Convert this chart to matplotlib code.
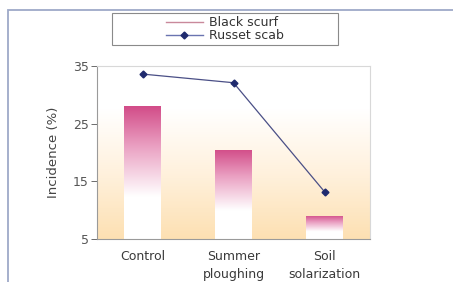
import numpy as np
import matplotlib
matplotlib.use("Agg")
import matplotlib.pyplot as plt
from matplotlib.colors import LinearSegmentedColormap
from matplotlib.patches import Rectangle
from matplotlib.lines import Line2D

plt.rcParams['font.family'] = ['DejaVu Sans']

# data
categories = ['Control', 'Summer\nploughing', 'Soil\nsolarization']
black_scurf = [28.0, 20.5, 9.0]
russet_scab = [33.6, 32.1, 13.2]
yticks = [5, 15, 25, 35]

fig = plt.figure(figsize=(4.53, 2.82), dpi=100)
fig.patch.set_facecolor('white')

W, H = 453.0, 282.0

# outer frame of the figure (top and left border)
fig.patches.append(Rectangle((8 / W, -0.1), 1.2, 1 - 10 / H + 0.1, transform=fig.transFigure,
                             fill=False, edgecolor='#9ea9c8', linewidth=1.3))

ax = fig.add_axes([97 / W, 1 - 239 / H, (370 - 97) / W, (239 - 66) / H])
x = np.arange(len(categories))
ax.set_xlim(-0.5, 2.5)
ax.set_ylim(5, 35)

# fond: blanc en haut, pêche en bas
bg = LinearSegmentedColormap.from_list('bg', [(0, '#fde0b2'), (0.35, '#fff0da'), (0.75, '#ffffff'), (1, '#ffffff')])
grad = np.linspace(0, 1, 256).reshape(-1, 1)
ax.imshow(grad, aspect='auto', cmap=bg, origin='lower',
          extent=[-0.5, 2.5, 5, 35], zorder=0)

# barres avec dégradé magenta -> blanc
barcmap = LinearSegmentedColormap.from_list('bar', [(0, '#ffffff'), (0.32, '#ffffff'),
                                                    (0.7, '#eaa0c2'), (1, '#d24c88')])
bars = ax.bar(x, [v - 5 for v in black_scurf], bottom=5, width=0.4,
              color='none', edgecolor='none', zorder=2)
for b in bars:
    x0, y0 = b.get_x(), b.get_y()
    w, h = b.get_width(), b.get_height()
    im = ax.imshow(grad, aspect='auto', cmap=barcmap, origin='lower',
                   extent=[x0, x0 + w, y0, y0 + h], zorder=2)
    im.set_clip_path(b)

ax.plot(x, russet_scab, color='#4a4f86', lw=0.9, marker='D', markersize=3.5,
        markerfacecolor='#1f2a6e', markeredgecolor='#1f2a6e', zorder=3)

ax.set_xticks(x)
ax.set_xticklabels(categories, fontsize=9, color='#3a3a3a', linespacing=1.45)
ax.set_yticks(yticks)
ax.tick_params(axis='y', labelsize=9, colors='#555555', length=4, width=0.6, pad=2)
ax.tick_params(axis='x', length=0, pad=8)
ax.set_ylabel('Incidence (%)', fontsize=9.5, color='#444444', labelpad=9)

for s in ['top', 'right']:
    ax.spines[s].set_color('#d8d8d8')
    ax.spines[s].set_linewidth(0.8)
for s in ['left', 'bottom']:
    ax.spines[s].set_color('#9a9a9a')
    ax.spines[s].set_linewidth(0.8)

# légende: cadre dessiné à part, contenu centré
fig.patches.append(Rectangle((112 / W, 1 - 45 / H), (338 - 112) / W, 32 / H,
                             transform=fig.transFigure, fill=False,
                             edgecolor='#8a8a8a', linewidth=0.8))
handles = [Line2D([], [], color='#c9899b', lw=1.0),
           Line2D([], [], color='#6a74b0', lw=1.0, marker='D', markersize=3.5,
                  markerfacecolor='#1f2a6e', markeredgecolor='#1f2a6e')]
leg = fig.legend(handles, ['Black scurf', 'Russet scab'],
                 loc='center', bbox_to_anchor=(225 / W, 1 - 29 / H),
                 fontsize=9, frameon=False, borderpad=0,
                 labelspacing=0.0, handlelength=3.0, handletextpad=0.5)
for t in leg.get_texts():
    t.set_color('#333333')

fig.savefig('out.png', dpi=100)
